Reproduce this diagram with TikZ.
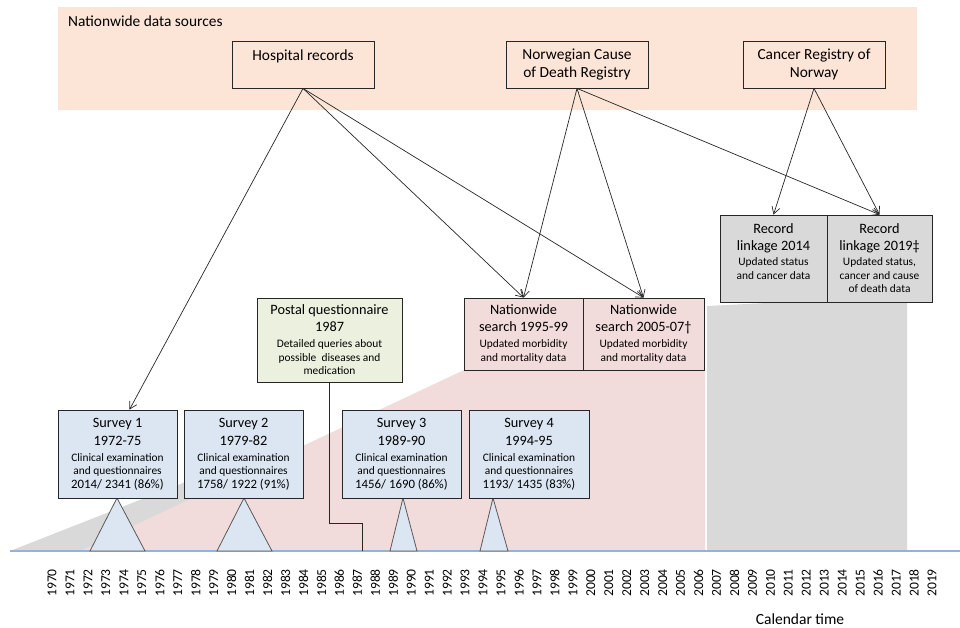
\documentclass[tikz,border=0pt]{standalone}
\usepackage{fontspec}
\setmainfont{Carlito}
\usetikzlibrary{arrows.meta}

\definecolor{tlpeach}{HTML}{FCE4D6}
\definecolor{tlblue}{HTML}{DCE6F2}
\definecolor{tlgreen}{HTML}{EBF1DE}
\definecolor{tlpink}{HTML}{F2DCDB}
\definecolor{tlgrey}{HTML}{D9D9D9}
\definecolor{tlaxis}{HTML}{95B3D7}

\newcommand{\tlbig}[1]{{\fontsize{14.3}{17}\selectfont #1}}
\newcommand{\tlnum}[1]{{\fontsize{12.8}{14}\selectfont #1}}

\begin{document}
\begin{tikzpicture}[x=1pt, y=-1pt,
  tlbox/.style = {draw=black!85, line width=0.8pt, align=center, inner sep=0pt,
                  font=\fontsize{11.4}{13.5}\selectfont},
  tlsource/.style = {tlbox, minimum width=142pt, minimum height=47pt,
                     font=\fontsize{15.4}{18}\selectfont},
  tlsurvey/.style = {tlbox, fill=tlblue, minimum width=119pt, minimum height=88pt},
  tlpostal/.style = {tlbox, fill=tlgreen, minimum width=145pt, minimum height=84pt},
  tlsearch/.style = {tlbox, fill=tlpink, minimum height=72pt},
  tlrecord/.style = {tlbox, fill=tlgrey, minimum height=87pt},
  tltri/.style = {fill=tlblue, draw=black!65, line width=0.8pt},
  tlarrow/.style = {-{Straight Barb[length=7pt,width=8pt]}, line width=0.7pt, black!85},
  tlyear/.style = {rotate=90, anchor=east, inner sep=0pt, font=\fontsize{13.6}{15}\selectfont}
]
  \useasboundingbox (0,0) rectangle (960,628);
  % background periods
  \fill[tlgrey] (10,551) -- (300,437) -- (300,551) -- cycle;
  \fill[tlpink] (80,551) -- (464,370) -- (705,370) -- (705,551) -- cycle;
  \fill[tlgrey] (707,306) -- (907,296) -- (907,551) -- (707,551) -- cycle;
  % time axis
  \draw[tlaxis, line width=2pt] (10,551) -- (960,551);
  \foreach \yy in {1970,...,2019}
    \node[tlyear] (yr\yy) at ({52+17.96*(\yy-1970)}, 569) {\yy};
  \node[font=\fontsize{15.5}{18}\selectfont] (caltime) at (800,619) {Calendar time};
  \coordinate (y1987) at (362,551);
  % survey periods
  \draw[tltri] (117,498) -- (90,551) -- (145,551) -- cycle;
  \draw[tltri] (244,498) -- (217,551) -- (272,551) -- cycle;
  \draw[tltri] (403,498) -- (390,551) -- (417,551) -- cycle;
  \draw[tltri] (493,498) -- (480,551) -- (508,551) -- cycle;
  % nationwide data sources
  \fill[tlpeach] (58,7) rectangle (917,110);
  \node[anchor=base west, inner sep=0pt, font=\fontsize{15.4}{18}\selectfont] (srclbl)
    at (68,27) {Nationwide data sources};
  \node[tlsource] (hosp) at (303,64.5) {Hospital records\\ \mbox{}};
  \node[tlsource] (cod) at (577,64.5) {Norwegian Cause\\of Death Registry};
  \node[tlsource] (crn) at (814,64.5) {Cancer Registry of\\Norway};
  % surveys
  \node[tlsurvey] (s1) at (117.5,454) {\tlbig{Survey 1}\\[4pt]\tlbig{1972-75}\\[2.5pt]
    Clinical examination\\and questionnaires\\\tlnum{2014/ 2341 (86\%)}};
  \node[tlsurvey] (s2) at (243.5,454) {\tlbig{Survey 2}\\[4pt]\tlbig{1979-82}\\[2.5pt]
    Clinical examination\\and questionnaires\\\tlnum{1758/ 1922 (91\%)}};
  \node[tlsurvey] (s3) at (401.5,454) {\tlbig{Survey 3}\\[4pt]\tlbig{1989-90}\\[2.5pt]
    Clinical examination\\and questionnaires\\\tlnum{1456/ 1690 (86\%)}};
  \node[tlsurvey, minimum width=120pt] (s4) at (529,454) {\tlbig{Survey 4}\\[4pt]\tlbig{1994-95}\\[2.5pt]
    Clinical examination\\and questionnaires\\\tlnum{1193/ 1435 (83\%)}};
  % postal questionnaire
  \node[tlpostal] (postal) at (329.5,340) {\tlbig{Postal questionnaire}\\[3.5pt]\tlbig{1987}\\[2.5pt]
    Detailed queries about\\possible~ diseases and\\medication};
  \draw[line width=0.8pt, black!85] (postal.south) |- ([yshift=28pt]y1987) -- (y1987);
  % nationwide searches
  \node[tlsearch, minimum width=119pt] (srch1) at (523.5,334) {\tlbig{Nationwide}\\[3.5pt]
    \tlbig{search 1995-99}\\[2.5pt]Updated morbidity\\and mortality data};
  \node[tlsearch, minimum width=121pt] (srch2) at (643.5,334) {\tlbig{Nationwide}\\[3.5pt]
    \tlbig{search 2005-07†}\\[2.5pt]Updated morbidity\\and mortality data};
  % record linkages
  \node[tlrecord, minimum width=107pt] (rec1) at (773.5,258.5) {\tlbig{Record}\\[3.5pt]
    \tlbig{linkage 2014}\\[1.5pt]Updated status\\and cancer data\\ \mbox{}};
  \node[tlrecord, minimum width=105pt] (rec2) at (879.5,258.5) {\tlbig{Record}\\[3.5pt]
    \tlbig{linkage 2019‡}\\[1.5pt]Updated status,\\cancer and cause\\of death data};
  % linkage arrows
  \draw[tlarrow] (hosp.south) -- ([xshift=12pt]s1.north);
  \draw[tlarrow] (hosp.south) -- (srch1.north);
  \draw[tlarrow] (hosp.south) -- (srch2.north);
  \draw[tlarrow] (cod.south) -- (srch1.north);
  \draw[tlarrow] (cod.south) -- (srch2.north);
  \draw[tlarrow] (cod.south) -- (rec2.north);
  \draw[tlarrow] (crn.south) -- (rec1.north);
  \draw[tlarrow] (crn.south) -- (rec2.north);
\end{tikzpicture}
\end{document}
